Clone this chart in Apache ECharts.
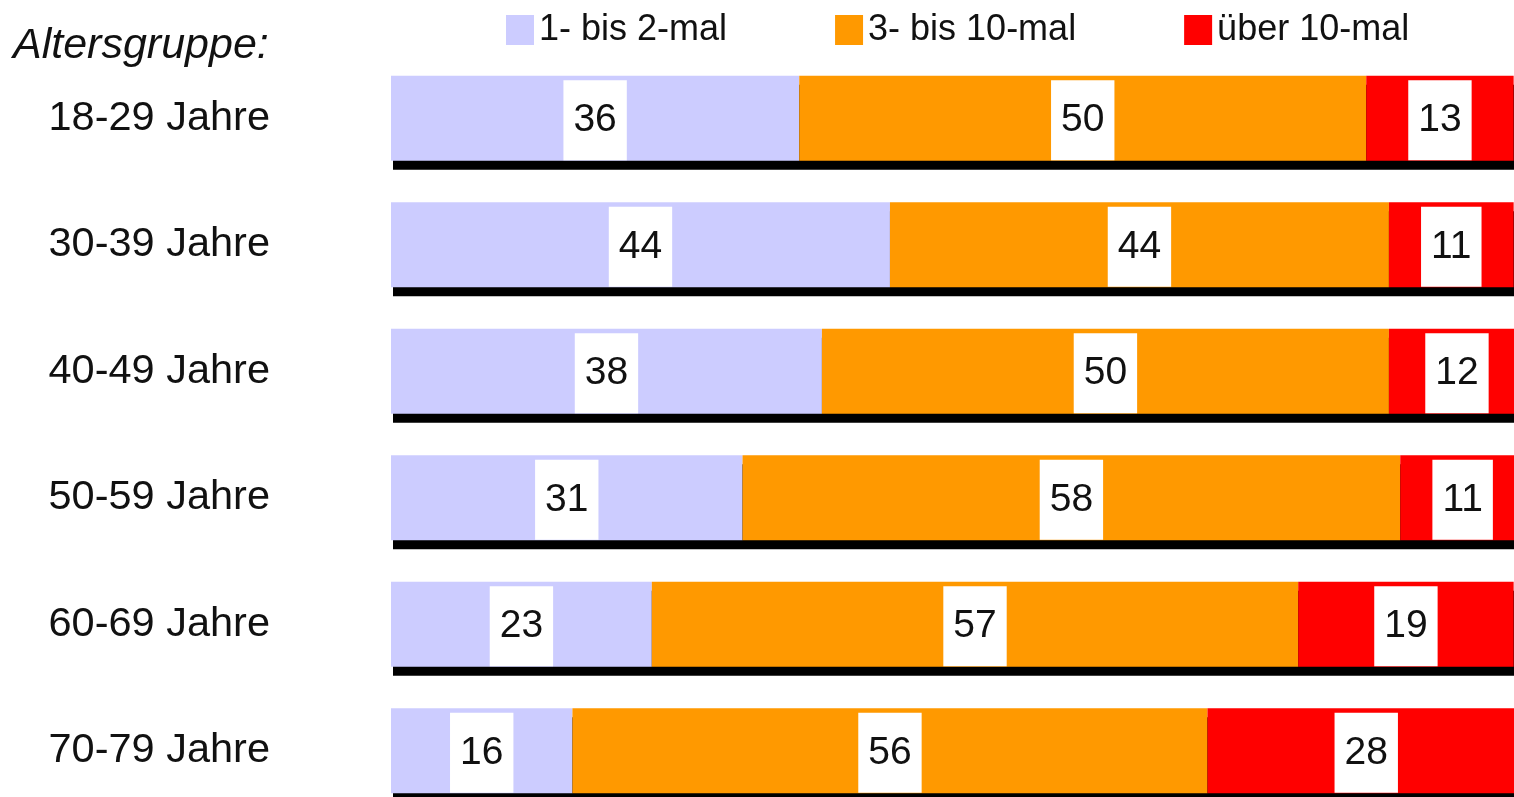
<!DOCTYPE html>
<html>
<head>
<meta charset="utf-8">
<script src="https://cdn.jsdelivr.net/npm/echarts@6/dist/echarts.min.js"></script>
<style>
  html, body { margin: 0; padding: 0; background: #fff; }
  #chart { width: 1514px; height: 797px; }
</style>
</head>
<body>
<div id="chart"></div>
<script>
// Age groups (top to bottom)
const categories = ['18-29 Jahre', '30-39 Jahre', '40-49 Jahre', '50-59 Jahre', '60-69 Jahre', '70-79 Jahre'];
// Share of respondents (%) per frequency class
const seriesNames = ['1- bis 2-mal', '3- bis 10-mal', 'über 10-mal'];
const lowValues  = [36, 44, 38, 31, 23, 16];
const midValues  = [50, 44, 50, 58, 57, 56];
const highValues = [13, 11, 12, 11, 19, 28];
const axisTitle = 'Altersgruppe:';

// Row totals for the black drop shadow under each bar
const rowTotals = categories.map((_, i) => lowValues[i] + midValues[i] + highValues[i]);

const colors = ['#CCCCFF', '#FF9900', '#FF0000'];
const FONT = "'Liberation Sans', Arial, Helvetica, sans-serif";

const GRID_LEFT = 391, GRID_TOP = 55, GRID_W = 1134, GRID_H = 759;
const BAR_W = 85;

function makeSeries(name, values, color) {
  return {
    name: name,
    type: 'bar',
    stack: 'total',
    xAxisIndex: 0,
    yAxisIndex: 0,
    barWidth: BAR_W,
    z: 3,
    data: values,
    itemStyle: { color: color },
    label: {
      show: true,
      position: 'inside',
      offset: [0, 2],
      fontFamily: FONT,
      fontSize: 39,
      lineHeight: 40,
      color: '#111',
      backgroundColor: '#fff',
      padding: [14, 10, 26, 10]
    },
    emphasis: { disabled: true }
  };
}

const chart = echarts.init(document.getElementById('chart'));
chart.setOption({
  animation: false,
  color: colors,
  legend: {
    data: seriesNames,
    icon: 'rect',
    left: 506,
    top: 12,
    padding: 0,
    itemWidth: 28,
    itemHeight: 30,
    itemGap: 108,
    selectedMode: false,
    textStyle: { fontFamily: FONT, fontSize: 36, color: '#111' }
  },
  graphic: [{
    type: 'text',
    left: 13,
    top: 25,
    style: {
      text: axisTitle,
      fontFamily: FONT,
      fontStyle: 'italic',
      fontSize: 43,
      fill: '#111'
    }
  }],
  grid: [
    { left: GRID_LEFT, top: GRID_TOP, width: GRID_W, height: GRID_H, containLabel: false, outerBoundsMode: 'none' },
    // shadow layer, shifted right and down
    { left: GRID_LEFT + 2, top: GRID_TOP + 9, width: GRID_W, height: GRID_H, containLabel: false, outerBoundsMode: 'none' }
  ],
  xAxis: [
    { type: 'value', gridIndex: 0, min: 0, max: 100, show: false },
    { type: 'value', gridIndex: 1, min: 0, max: 100, show: false }
  ],
  yAxis: [
    {
      type: 'category',
      gridIndex: 0,
      data: categories,
      inverse: true,
      axisLine: { show: false },
      axisTick: { show: false },
      splitLine: { show: false },
      axisLabel: {
        margin: 121,
        fontFamily: FONT,
        fontSize: 41.5,
        color: '#111'
      }
    },
    {
      type: 'category',
      gridIndex: 1,
      data: categories,
      inverse: true,
      show: false
    }
  ],
  series: [
    {
      name: 'shadow',
      type: 'bar',
      xAxisIndex: 1,
      yAxisIndex: 1,
      barWidth: BAR_W,
      z: 1,
      data: rowTotals,
      itemStyle: { color: '#000' },
      silent: true,
      emphasis: { disabled: true }
    },
    makeSeries(seriesNames[0], lowValues, colors[0]),
    makeSeries(seriesNames[1], midValues, colors[1]),
    makeSeries(seriesNames[2], highValues, colors[2])
  ]
});
</script>
</body>
</html>
